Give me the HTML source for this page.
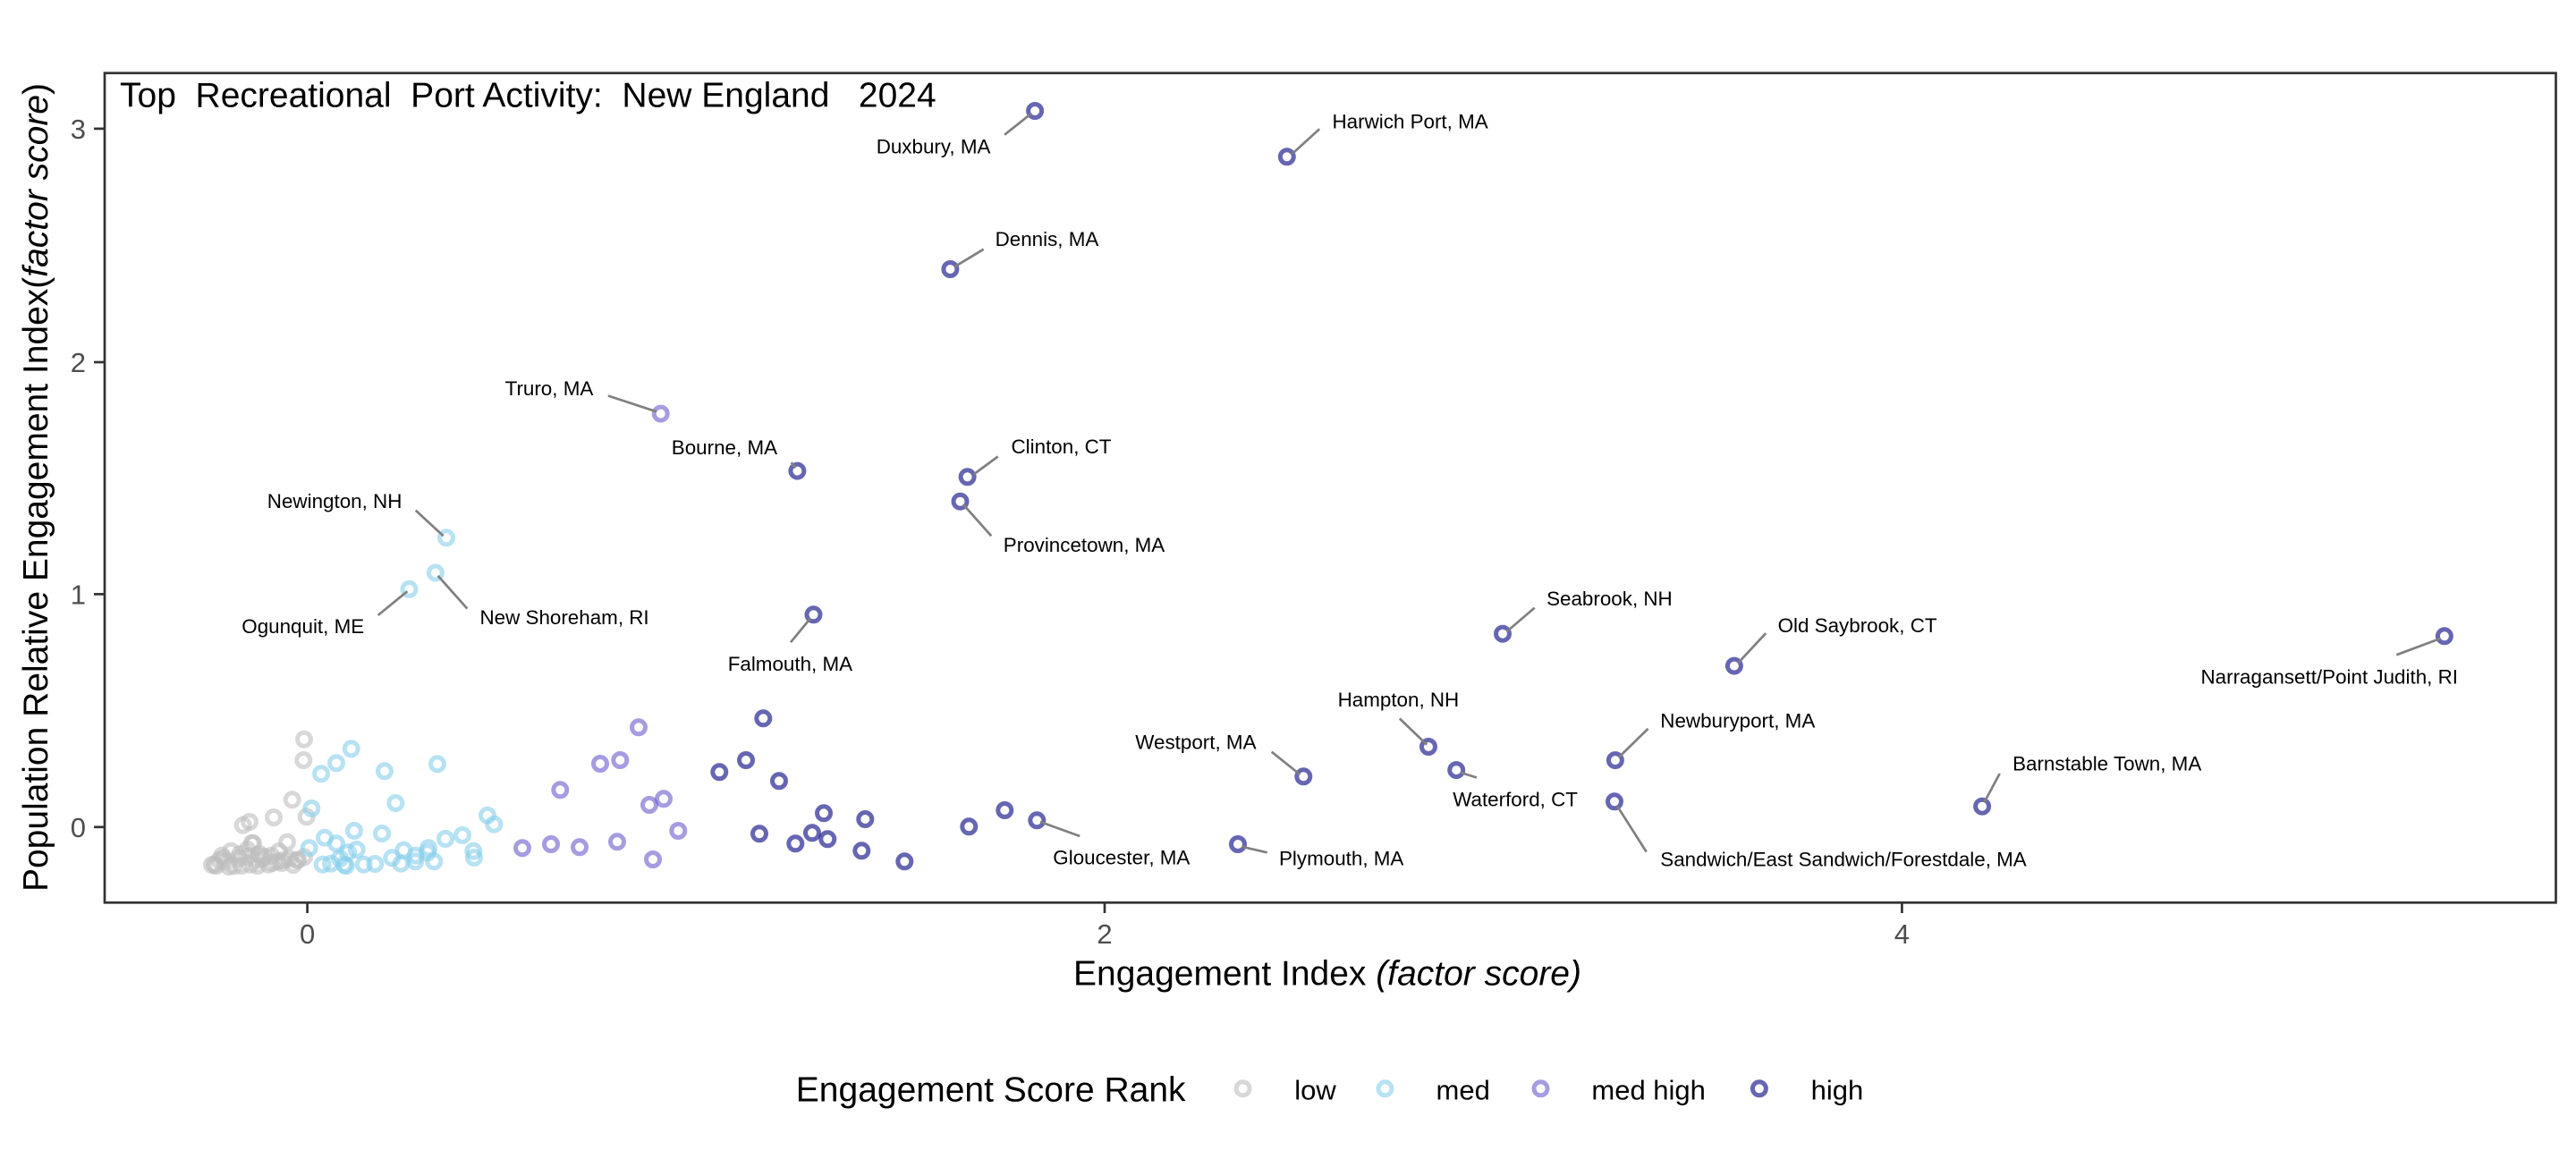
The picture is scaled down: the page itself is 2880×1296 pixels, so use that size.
<!DOCTYPE html>
<html>
<head>
<meta charset="utf-8">
<style>
html,body{margin:0;padding:0;background:#fff;}
svg{display:block;}
text{font-family:"Liberation Sans",Arial,sans-serif;white-space:pre;}
.lbl{font-size:22.4px;fill:#000;}
.tick{font-size:31px;fill:#4d4d4d;}
.seg{stroke:#808080;stroke-width:2.7;stroke-linecap:butt;}
.lo{fill:none;stroke:#bebebe;stroke-opacity:0.6;stroke-width:5;}
.me{fill:none;stroke:#87ceeb;stroke-opacity:0.6;stroke-width:5;}
.mh{fill:none;stroke:#6a5acd;stroke-opacity:0.6;stroke-width:5;}
.hi{fill:none;stroke:#000080;stroke-opacity:0.6;stroke-width:5;}
</style>
</head>
<body>
<svg width="2880" height="1296" viewBox="0 0 2880 1296" xmlns="http://www.w3.org/2000/svg" xml:space="preserve">
<rect x="0" y="0" width="2880" height="1296" fill="#fff"/>

<!-- points: low -->
<g id="low">
<circle class="lo" cx="340" cy="826.7" r="7.5"/>
<circle class="lo" cx="339.3" cy="850" r="7.5"/>
<circle class="lo" cx="326.7" cy="894.3" r="7.5"/>
<circle class="lo" cx="306" cy="914" r="7.5"/>
<circle class="lo" cx="279" cy="919" r="7.5"/>
<circle class="lo" cx="271.7" cy="922.7" r="7.5"/>
<circle class="lo" cx="342.7" cy="913.3" r="7.5"/>
<circle class="lo" cx="321" cy="941.7" r="7.5"/>
<circle class="lo" cx="281.7" cy="942.7" r="7.5"/>
<circle class="lo" cx="258.3" cy="951.7" r="7.5"/>
<circle class="lo" cx="248.3" cy="956.7" r="7.5"/>
<circle class="lo" cx="240" cy="966.7" r="7.5"/>
<circle class="lo" cx="253.3" cy="963.3" r="7.5"/>
<circle class="lo" cx="266.7" cy="960" r="7.5"/>
<circle class="lo" cx="280" cy="966.7" r="7.5"/>
<circle class="lo" cx="293.3" cy="960" r="7.5"/>
<circle class="lo" cx="303.3" cy="956.7" r="7.5"/>
<circle class="lo" cx="310" cy="963.3" r="7.5"/>
<circle class="lo" cx="323.3" cy="960" r="7.5"/>
<circle class="lo" cx="333.3" cy="961.7" r="7.5"/>
<circle class="lo" cx="340" cy="958.3" r="7.5"/>
<circle class="lo" cx="241.7" cy="968.3" r="7.5"/>
<circle class="lo" cx="261.7" cy="968.3" r="7.5"/>
<circle class="lo" cx="276.7" cy="950" r="7.5"/>
<circle class="lo" cx="290" cy="955" r="7.5"/>
<circle class="lo" cx="300" cy="966.7" r="7.5"/>
<circle class="lo" cx="316.7" cy="961.7" r="7.5"/>
<circle class="lo" cx="250" cy="960" r="7.5"/>
<circle class="lo" cx="268.3" cy="955" r="7.5"/>
<circle class="lo" cx="283" cy="943" r="7.5"/>
<circle class="lo" cx="286.7" cy="961.7" r="7.5"/>
<circle class="lo" cx="295" cy="958" r="7.5"/>
<circle class="lo" cx="305" cy="965" r="7.5"/>
<circle class="lo" cx="315" cy="965" r="7.5"/>
<circle class="lo" cx="331.7" cy="961.7" r="7.5"/>
<circle class="lo" cx="245" cy="962" r="7.5"/>
<circle class="lo" cx="270" cy="968" r="7.5"/>
<circle class="lo" cx="288" cy="968" r="7.5"/>
<circle class="lo" cx="237" cy="967" r="7.5"/>
<circle class="lo" cx="256" cy="969" r="7.5"/>
<circle class="lo" cx="276" cy="958" r="7.5"/>
<circle class="lo" cx="312" cy="952" r="7.5"/>
<circle class="lo" cx="328" cy="967" r="7.5"/>
</g>

<!-- points: med -->
<g id="med">
<circle class="me" cx="392.7" cy="837.3" r="7.5"/>
<circle class="me" cx="376" cy="853.3" r="7.5"/>
<circle class="me" cx="359" cy="865.3" r="7.5"/>
<circle class="me" cx="430" cy="862.3" r="7.5"/>
<circle class="me" cx="489" cy="854.3" r="7.5"/>
<circle class="me" cx="348.3" cy="904" r="7.5"/>
<circle class="me" cx="442.3" cy="898" r="7.5"/>
<circle class="me" cx="545" cy="911.7" r="7.5"/>
<circle class="me" cx="552.3" cy="921.7" r="7.5"/>
<circle class="me" cx="396" cy="929" r="7.5"/>
<circle class="me" cx="427" cy="932" r="7.5"/>
<circle class="me" cx="363" cy="936.7" r="7.5"/>
<circle class="me" cx="498" cy="938" r="7.5"/>
<circle class="me" cx="517" cy="934" r="7.5"/>
<circle class="me" cx="345.7" cy="948.3" r="7.5"/>
<circle class="me" cx="376" cy="943.3" r="7.5"/>
<circle class="me" cx="398.7" cy="950" r="7.5"/>
<circle class="me" cx="389" cy="953.3" r="7.5"/>
<circle class="me" cx="451.3" cy="950.7" r="7.5"/>
<circle class="me" cx="479" cy="948.3" r="7.5"/>
<circle class="me" cx="529.3" cy="951.7" r="7.5"/>
<circle class="me" cx="530" cy="959" r="7.5"/>
<circle class="me" cx="464.7" cy="956.7" r="7.5"/>
<circle class="me" cx="478" cy="953.3" r="7.5"/>
<circle class="me" cx="438.3" cy="959.3" r="7.5"/>
<circle class="me" cx="448.3" cy="965.7" r="7.5"/>
<circle class="me" cx="485.3" cy="963.3" r="7.5"/>
<circle class="me" cx="464.3" cy="963.3" r="7.5"/>
<circle class="me" cx="360.7" cy="966.7" r="7.5"/>
<circle class="me" cx="370" cy="965.7" r="7.5"/>
<circle class="me" cx="385" cy="966.7" r="7.5"/>
<circle class="me" cx="386.7" cy="968.3" r="7.5"/>
<circle class="me" cx="406.7" cy="966.7" r="7.5"/>
<circle class="me" cx="419.3" cy="966" r="7.5"/>
<circle class="me" cx="380" cy="960" r="7.5"/>
<circle class="me" cx="499" cy="601.3" r="7.5"/>
<circle class="me" cx="486.9" cy="640.5" r="7.5"/>
<circle class="me" cx="457.5" cy="658.9" r="7.5"/>
</g>

<!-- points: med high -->
<g id="medhigh">
<circle class="mh" cx="714" cy="813.3" r="7.5"/>
<circle class="mh" cx="671" cy="854" r="7.5"/>
<circle class="mh" cx="693.3" cy="850" r="7.5"/>
<circle class="mh" cx="626.3" cy="883.3" r="7.5"/>
<circle class="mh" cx="726" cy="900" r="7.5"/>
<circle class="mh" cx="742" cy="893.3" r="7.5"/>
<circle class="mh" cx="758.3" cy="929" r="7.5"/>
<circle class="mh" cx="584" cy="948.3" r="7.5"/>
<circle class="mh" cx="616" cy="944" r="7.5"/>
<circle class="mh" cx="648" cy="947.3" r="7.5"/>
<circle class="mh" cx="690" cy="941.3" r="7.5"/>
<circle class="mh" cx="730" cy="961" r="7.5"/>
<circle class="mh" cx="738.7" cy="462.6" r="7.5"/>
</g>

<!-- points: high -->
<g id="high">
<circle class="hi" cx="853.3" cy="803.3" r="7.5"/>
<circle class="hi" cx="834" cy="850" r="7.5"/>
<circle class="hi" cx="804.3" cy="863.3" r="7.5"/>
<circle class="hi" cx="871" cy="873.3" r="7.5"/>
<circle class="hi" cx="921" cy="909.3" r="7.5"/>
<circle class="hi" cx="967.3" cy="916" r="7.5"/>
<circle class="hi" cx="849" cy="932.3" r="7.5"/>
<circle class="hi" cx="889.3" cy="943.3" r="7.5"/>
<circle class="hi" cx="908" cy="931.3" r="7.5"/>
<circle class="hi" cx="925.3" cy="938.3" r="7.5"/>
<circle class="hi" cx="963.3" cy="951.3" r="7.5"/>
<circle class="hi" cx="1011.3" cy="963.3" r="7.5"/>
<circle class="hi" cx="1083.3" cy="924.3" r="7.5"/>
<circle class="hi" cx="1123.3" cy="906" r="7.5"/>
<circle class="hi" cx="1159.3" cy="917.3" r="7.5"/>
<circle class="hi" cx="1457.3" cy="868.3" r="7.5"/>
<circle class="hi" cx="1384" cy="944" r="7.5"/>
<circle class="hi" cx="1157.1" cy="124" r="7.5"/>
<circle class="hi" cx="1438.8" cy="175.3" r="7.5"/>
<circle class="hi" cx="1062.4" cy="301" r="7.5"/>
<circle class="hi" cx="891.4" cy="526.6" r="7.5"/>
<circle class="hi" cx="1081.6" cy="533.3" r="7.5"/>
<circle class="hi" cx="1073.5" cy="560.7" r="7.5"/>
<circle class="hi" cx="909.5" cy="687.3" r="7.5"/>
<circle class="hi" cx="1680" cy="708.7" r="7.5"/>
<circle class="hi" cx="1938.9" cy="744.6" r="7.5"/>
<circle class="hi" cx="1597" cy="835" r="7.5"/>
<circle class="hi" cx="1628.2" cy="861.1" r="7.5"/>
<circle class="hi" cx="1805.9" cy="850.1" r="7.5"/>
<circle class="hi" cx="1805" cy="896.3" r="7.5"/>
<circle class="hi" cx="2732.9" cy="711.3" r="7.5"/>
<circle class="hi" cx="2216.1" cy="901.7" r="7.5"/>
</g>

<!-- label segments -->
<g>
<line class="seg" x1="1123.1" y1="150.7" x2="1153.3" y2="126.7"/>
<line class="seg" x1="1445" y1="171.7" x2="1475.2" y2="144.3"/>
<line class="seg" x1="1067.2" y1="298.3" x2="1099.7" y2="278.7"/>
<line class="seg" x1="679.8" y1="442.5" x2="734" y2="460.3"/>
<line class="seg" x1="884.7" y1="517.2" x2="889.4" y2="523.2"/>
<line class="seg" x1="1088.3" y1="530.6" x2="1115.7" y2="510.5"/>
<line class="seg" x1="1076.9" y1="564.1" x2="1108.3" y2="599.3"/>
<line class="seg" x1="464.8" y1="570.8" x2="495.6" y2="599.3"/>
<line class="seg" x1="489.6" y1="643.8" x2="522.4" y2="680.6"/>
<line class="seg" x1="422.6" y1="688" x2="455.4" y2="661.2"/>
<line class="seg" x1="884" y1="718.2" x2="906.1" y2="691.4"/>
<line class="seg" x1="1163" y1="919" x2="1207.3" y2="935"/>
<line class="seg" x1="1421.7" y1="840.7" x2="1453.3" y2="866"/>
<line class="seg" x1="1388.3" y1="946.7" x2="1416.7" y2="953.3"/>
<line class="seg" x1="1684.5" y1="706.4" x2="1715.7" y2="679.6"/>
<line class="seg" x1="1943.4" y1="741.2" x2="1974.2" y2="708.1"/>
<line class="seg" x1="1564.8" y1="803.5" x2="1595.2" y2="832.7"/>
<line class="seg" x1="1632.7" y1="863.8" x2="1651" y2="869.5"/>
<line class="seg" x1="1809.5" y1="847.1" x2="1842.5" y2="814.9"/>
<line class="seg" x1="1808.1" y1="901.3" x2="1840.7" y2="952.6"/>
<line class="seg" x1="2679.3" y1="732.3" x2="2728.2" y2="714"/>
<line class="seg" x1="2218.4" y1="897.3" x2="2235.7" y2="865"/>
</g>

<!-- labels -->
<g>
<text class="lbl" x="979.7" y="171.7">Duxbury, MA</text>
<text class="lbl" x="1489.5" y="143.3">Harwich Port, MA</text>
<text class="lbl" x="1112.6" y="275">Dennis, MA</text>
<text class="lbl" x="564.6" y="441.9">Truro, MA</text>
<text class="lbl" x="750.8" y="507.8">Bourne, MA</text>
<text class="lbl" x="1130.5" y="507.2">Clinton, CT</text>
<text class="lbl" x="1121.8" y="617">Provincetown, MA</text>
<text class="lbl" x="298.8" y="568.1">Newington, NH</text>
<text class="lbl" x="536.5" y="698">New Shoreham, RI</text>
<text class="lbl" x="407.2" y="708.1" text-anchor="end">Ogunquit, ME</text>
<text class="lbl" x="813.7" y="750">Falmouth, MA</text>
<text class="lbl" x="1177.3" y="966.7">Gloucester, MA</text>
<text class="lbl" x="1269.3" y="837.3">Westport, MA</text>
<text class="lbl" x="1430" y="967.3">Plymouth, MA</text>
<text class="lbl" x="1729.1" y="676.9">Seabrook, NH</text>
<text class="lbl" x="1987.6" y="707.1">Old Saybrook, CT</text>
<text class="lbl" x="1495.6" y="790.1">Hampton, NH</text>
<text class="lbl" x="1624.2" y="901.3">Waterford, CT</text>
<text class="lbl" x="1856.3" y="813.6">Newburyport, MA</text>
<text class="lbl" x="1856.3" y="968.3">Sandwich/East Sandwich/Forestdale, MA</text>
<text class="lbl" x="2460.5" y="764.3">Narragansett/Point Judith, RI</text>
<text class="lbl" x="2250.1" y="861.7">Barnstable Town, MA</text>
</g>

<!-- title -->
<text x="134" y="119.4" style="font-size:39px;fill:#000;">Top  Recreational  Port Activity:  New England   2024</text>

<!-- panel border -->
<rect x="117" y="81.7" width="2740.5" height="927.6" fill="none" stroke="#333333" stroke-width="2.7"/>

<!-- y ticks -->
<g stroke="#333333" stroke-width="2.7">
<line x1="105" y1="143.9" x2="117" y2="143.9"/>
<line x1="105" y1="405" x2="117" y2="405"/>
<line x1="105" y1="664.4" x2="117" y2="664.4"/>
<line x1="105" y1="924.8" x2="117" y2="924.8"/>
</g>
<text class="tick" x="96" y="155.1" text-anchor="end">3</text>
<text class="tick" x="96" y="416.2" text-anchor="end">2</text>
<text class="tick" x="96" y="675.6" text-anchor="end">1</text>
<text class="tick" x="96" y="936" text-anchor="end">0</text>

<!-- x ticks -->
<g stroke="#333333" stroke-width="2.7">
<line x1="343.6" y1="1009.3" x2="343.6" y2="1021"/>
<line x1="1235" y1="1009.3" x2="1235" y2="1021"/>
<line x1="2126.4" y1="1009.3" x2="2126.4" y2="1021"/>
</g>
<text class="tick" x="343.6" y="1055" text-anchor="middle">0</text>
<text class="tick" x="1235" y="1055" text-anchor="middle">2</text>
<text class="tick" x="2126.4" y="1055" text-anchor="middle">4</text>

<!-- axis titles -->
<text x="1484" y="1101.7" text-anchor="middle" style="font-size:39px;fill:#000;">Engagement Index <tspan font-style="italic">(factor score)</tspan></text>
<text transform="translate(53,545) rotate(-90)" x="0" y="0" text-anchor="middle" style="font-size:39px;fill:#000;">Population Relative Engagement Index(<tspan font-style="italic">factor score</tspan>)</text>

<!-- legend -->
<text x="889.8" y="1231.7" style="font-size:39px;fill:#000;">Engagement Score Rank</text>
<circle class="lo" cx="1389.6" cy="1217.3" r="7.5"/>
<circle class="me" cx="1548.5" cy="1217.3" r="7.5"/>
<circle class="mh" cx="1722.5" cy="1217.3" r="7.5"/>
<circle class="hi" cx="1966.9" cy="1217.3" r="7.5"/>
<text x="1447.3" y="1229.3" style="font-size:31px;fill:#000;">low</text>
<text x="1605.5" y="1229.3" style="font-size:31px;fill:#000;">med</text>
<text x="1779.4" y="1229.3" style="font-size:31px;fill:#000;">med high</text>
<text x="2024.6" y="1229.3" style="font-size:31px;fill:#000;">high</text>
</svg>
</body>
</html>
